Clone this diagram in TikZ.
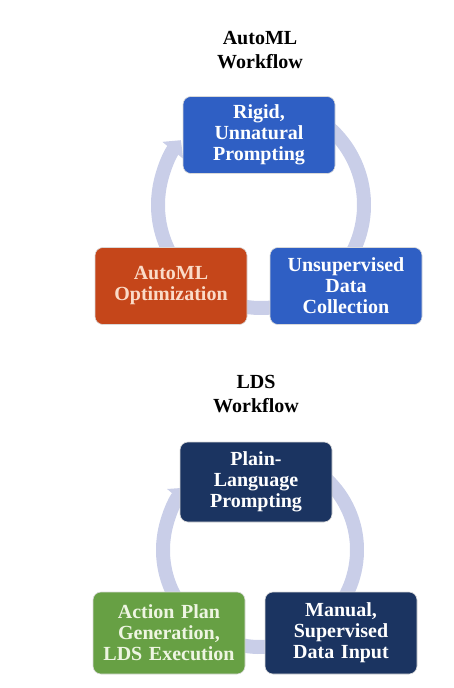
\documentclass[tikz,border=0pt]{standalone}
\usepackage{fontspec}
\setmainfont{Liberation Serif}
\usetikzlibrary{arrows.meta}
\usetikzlibrary{positioning}
\definecolor{autoblue}{HTML}{2F5FC4}
\definecolor{autored}{HTML}{C5461A}
\definecolor{ldsnavy}{HTML}{1B3461}
\definecolor{ldsgreen}{HTML}{67A044}
\definecolor{ringcol}{HTML}{C9CEE8}
\definecolor{peach}{HTML}{FADBC8}
\definecolor{palegreen}{HTML}{EEF5E2}

\begin{document}
\begin{tikzpicture}[x=1pt,y=1pt]
	\tikzstyle{every node}=[align=center,font=\fontsize{20}{21}\selectfont\bfseries];
	\tikzstyle{title}=[font=\fontsize{20}{24}\selectfont\bfseries];
	\tikzstyle{box}=[rounded corners=8pt,minimum width=152pt,minimum height=77pt,text width=148pt,inner sep=0pt,draw=white!70!gray,line width=0.6pt];
	\tikzstyle{ring}=[line width=14pt,draw=ringcol,-{Triangle[width=26pt,length=13pt]}];
	\useasboundingbox (0,0) rectangle (454,-688);
	% AutoML cycle
	\path (260,-50) node[title] (t1) {AutoML\\Workflow};
	\draw[ring] (261,-205) ++(80:103) arc[start angle=80,end angle=-219,radius=103];
	\path (259,-135) node[box,fill=autoblue,text=white] (a1) {Rigid,\\Unnatural\\Prompting};
	\path (346,-286) node[box,fill=autoblue,text=white] (a2) {Unsupervised\\Data\\Collection};
	\path (171,-286) node[box,fill=autored,text=peach] (a3) {AutoML\\Optimization};
	% LDS cycle
	\path (256,-394) node[title] (t2) {LDS\\Workflow};
	\draw[ring] (260,-550) ++(80:97) arc[start angle=80,end angle=-220,radius=97];
	\path (256,-482) node[box,fill=ldsnavy,text=white,minimum height=80pt] (l1) {Plain-\\Language\\Prompting};
	\path (341,-633) node[box,fill=ldsnavy,text=white,minimum height=82pt] (l2) {Manual,\\Supervised\\Data Input};
	\path (169,-633) node[box,fill=ldsgreen,text=palegreen,minimum height=82pt] (l3) {Action Plan\\Generation,\\LDS Execution};
\end{tikzpicture}
\end{document}
